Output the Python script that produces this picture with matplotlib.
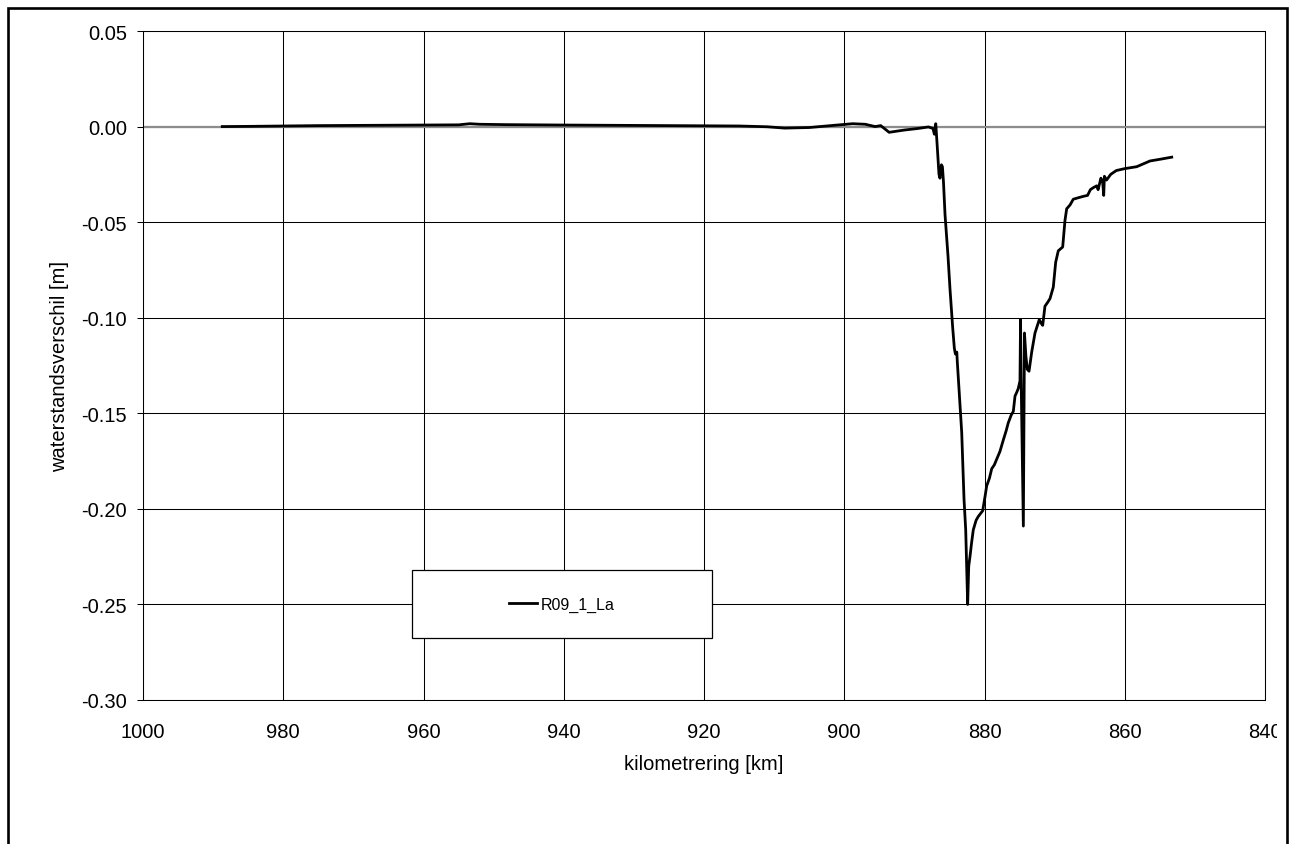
import matplotlib
matplotlib.use('Agg')
import matplotlib.pyplot as plt
from matplotlib.patches import Rectangle

plt.rcParams['font.family'] = ['Liberation Sans', 'DejaVu Sans']

# Data (km, water level difference in m)
km = [988.7, 985.0, 980.0, 975.0, 970.0, 965.0, 960.0, 955.0, 953.4, 952.0,
      948.0, 944.0, 940.0, 935.0, 930.0, 925.0, 920.0, 915.0, 911.0, 908.5,
      905.0, 901.0, 898.8, 897.0, 895.6, 894.8, 893.6, 891.4, 889.5, 888.0,
      887.35, 887.15, 886.95, 886.78, 886.49, 886.35, 886.14, 886.0, 885.85, 885.63,
      885.2, 884.92, 884.54, 884.3, 884.15, 883.95, 883.88, 883.64, 883.25, 882.92,
      882.68, 882.40, 882.25, 882.07, 881.85, 881.60, 881.2, 880.89, 880.26, 879.9,
      879.69, 879.3, 878.97, 878.6, 878.26, 877.8, 877.32, 876.9, 876.61, 876.2,
      875.89, 875.65, 875.4, 875.18, 874.94, 874.86, 874.78, 874.46, 874.30, 874.1,
      873.9, 873.65, 873.27, 872.80, 872.19, 871.9, 871.70, 871.38, 871.0, 870.66,
      870.19, 869.85, 869.48, 868.85, 868.52, 868.28, 867.8, 867.34, 866.4, 865.9,
      865.3, 864.9, 864.5, 864.0, 863.8, 863.4, 863.15, 863.0, 862.9, 862.6,
      862.0, 861.2, 860.0, 858.3, 856.4, 854.8, 853.3]
dh = [0.0000, 0.0001, 0.0003, 0.0005, 0.0006, 0.0007, 0.0008, 0.0009, 0.0015, 0.0012,
      0.0010, 0.0009, 0.0008, 0.0007, 0.0006, 0.0005, 0.0004, 0.0003, -0.0001, -0.0008,
      -0.0005, 0.0008, 0.0015, 0.0012, 0.0000, 0.0005, -0.0030, -0.0018, -0.0010, -0.0002,
      -0.0010, -0.0040, 0.0015, -0.0080, -0.0250, -0.0270, -0.0200, -0.0210, -0.0290, -0.0460,
      -0.0680, -0.0850, -0.1050, -0.1160, -0.1190, -0.1180, -0.1230, -0.1370, -0.1600, -0.1950,
      -0.2110, -0.2500, -0.2300, -0.2250, -0.2180, -0.2110, -0.2060, -0.2040, -0.2010, -0.1930,
      -0.1880, -0.1840, -0.1790, -0.1770, -0.1740, -0.1700, -0.1640, -0.1590, -0.1550, -0.1510,
      -0.1490, -0.1410, -0.1390, -0.1370, -0.1330, -0.1010, -0.1310, -0.2090, -0.1080, -0.1200,
      -0.1270, -0.1280, -0.1180, -0.1080, -0.1010, -0.1030, -0.1040, -0.0940, -0.0920, -0.0900,
      -0.0840, -0.0710, -0.0650, -0.0630, -0.0490, -0.0430, -0.0410, -0.0380, -0.0370, -0.0365,
      -0.0360, -0.0330, -0.0320, -0.0310, -0.0330, -0.0270, -0.0290, -0.0360, -0.0260, -0.0280,
      -0.0250, -0.0230, -0.0220, -0.0210, -0.0180, -0.0170, -0.0160]

series_name = 'R09_1_La'
x_ticks = [1000, 980, 960, 940, 920, 900, 880, 860, 840]
y_ticks = [0.05, 0.00, -0.05, -0.10, -0.15, -0.20, -0.25, -0.30]
y_tick_labels = ['0.05', '0.00', '-0.05', '-0.10', '-0.15', '-0.20', '-0.25', '-0.30']

W, H = 1293, 845
fig = plt.figure(figsize=(W / 100, H / 100), dpi=100)
ax = fig.add_axes([143 / W, (H - 701) / H, (1265 - 143) / W, (701 - 32) / H])

# grid and the zero axis line (grey, like the spreadsheet original)
ax.grid(True, color='black', linewidth=0.75)
ax.set_axisbelow(True)
ax.axhline(0, color='#8c8c8c', linewidth=1.6, zorder=2)

ax.plot(km, dh, color='black', linewidth=2.0, label=series_name, zorder=3)

ax.set_xlim(1000, 840)
ax.set_ylim(-0.30, 0.05)
ax.set_xticks(x_ticks)
ax.set_xticklabels([str(v) for v in x_ticks])
ax.set_yticks(y_ticks)
ax.set_yticklabels(y_tick_labels)
ax.tick_params(axis='x', length=0, pad=15.5, labelsize=14.5)
ax.tick_params(axis='y', length=4.5, width=0.75, pad=7, labelsize=14.5)
for s in ax.spines.values():
    s.set_linewidth(0.75)

ax.set_xlabel('kilometrering [km]', fontsize=14.5, va='top')
ax.xaxis.set_label_coords(0.5, -0.080)
ax.set_ylabel('waterstandsverschil [m]', fontsize=14.5)
ax.yaxis.set_label_coords(-0.066, 0.5)

# legend box
bx0, bx1 = (412 - 143) / 1122, (712 - 143) / 1122
by0, by1 = (701 - 639) / 669, (701 - 571) / 669
ax.add_patch(Rectangle((bx0, by0), bx1 - bx0, by1 - by0, transform=ax.transAxes,
                       facecolor='white', edgecolor='black', linewidth=0.9, zorder=4))
leg = ax.legend(loc='center', bbox_to_anchor=((bx0 + bx1) / 2, (by0 + by1) / 2),
                frameon=False, fontsize=11.5, handlelength=1.75, handletextpad=0.25)
leg.set_zorder(5)

# clip the last tick label like the original and draw the outer border
fig.add_artist(Rectangle((1276.5 / W, 0.10), (1286 - 1276.5) / W, 0.07,
                         transform=fig.transFigure, facecolor='white',
                         edgecolor='none', zorder=5))
fig.add_artist(Rectangle((7.5 / W, -0.05), (1287 - 7.5) / W, (H - 9) / H + 0.05,
                         transform=fig.transFigure, fill=False, edgecolor='black',
                         linewidth=1.9, zorder=6, clip_on=False))

plt.savefig('out.png', dpi=100)
